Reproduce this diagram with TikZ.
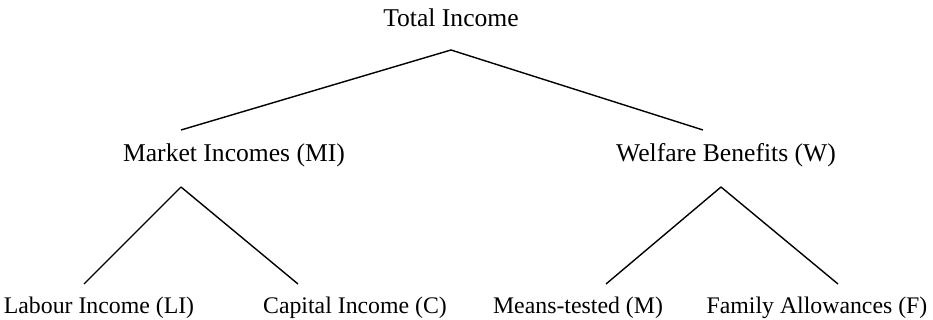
\documentclass[tikz,border=0pt]{standalone}
\usepackage{fontspec}
\setmainfont{Liberation Serif}
\begin{document}
\begin{tikzpicture}[x=0.5pt, y=-0.5pt,
        lbl/.style={anchor=base, inner sep=0pt, font=\fontsize{12.8}{15}\selectfont},
        leaf/.style={lbl, font=\fontsize{11.9}{14}\selectfont},
        branch/.style={line width=0.7pt}]
            \useasboundingbox (0,0) rectangle (933,320);
            % labels
            \node[lbl] (total) at (451,27) {Total Income};
            \node[lbl] (mi) at (234,162) {Market Incomes (MI)};
            \node[lbl] (w) at (726,162) {Welfare Benefits (W)};
            \node[leaf] (li) at (99,314) {Labour Income (LI)};
            \node[leaf] (c) at (355,314) {Capital Income (C)};
            \node[leaf] (m) at (578,314) {Means-tested (M)};
            \node[leaf] (f) at (817,314) {Family Allowances (F)};
            % joints of the tree
            \coordinate (total-j) at (451,50);
            \coordinate (mi-in) at (181,130);
            \coordinate (w-in) at (703,130);
            \coordinate (mi-j) at (181,187);
            \coordinate (w-j) at (721,187);
            \coordinate (li-in) at (84,284);
            \coordinate (c-in) at (298,284);
            \coordinate (m-in) at (606,284);
            \coordinate (f-in) at (838,284);
            \foreach \cFrom/\cTo in {total-j/mi-in, total-j/w-in, mi-j/li-in, mi-j/c-in, w-j/m-in, w-j/f-in}
                \draw[branch] (\cFrom) -- (\cTo);
        \end{tikzpicture}
\end{document}
